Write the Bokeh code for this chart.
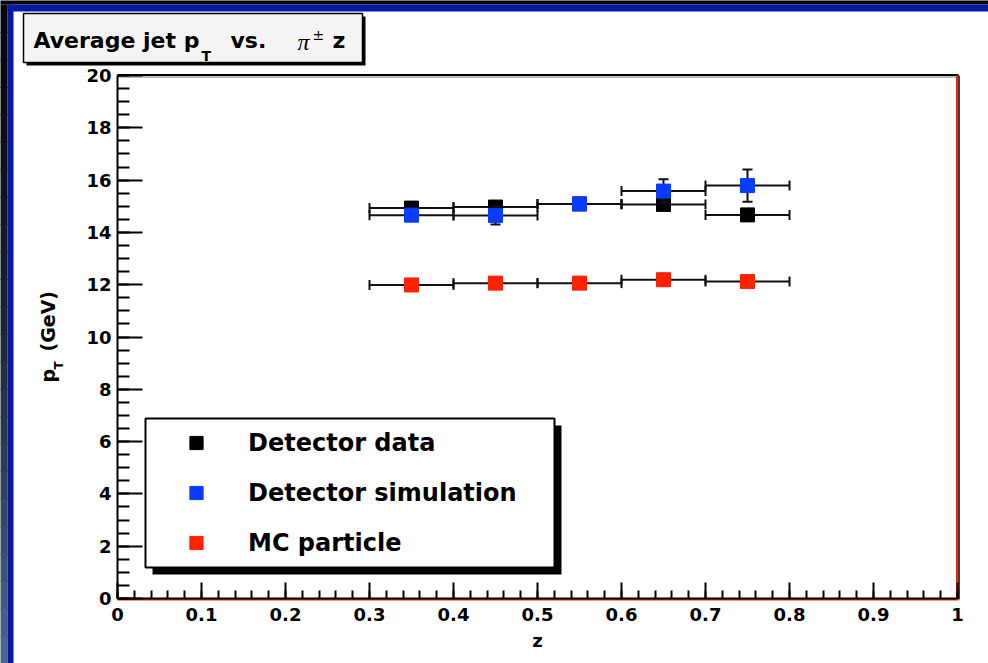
import math
from jinja2 import Template
from bokeh.plotting import figure
from bokeh.models import (Range1d, FixedTicker, BoxAnnotation, Legend, LegendItem, GridBox)
from bokeh.core.properties import value
from bokeh.embed import file_html
from bokeh.resources import INLINE

# ---------------- data ----------------
z_centers = [0.35, 0.45, 0.55, 0.65, 0.75]
z_halfwidth = [0.05, 0.05, 0.05, 0.05, 0.05]
data_pt = [14.93, 14.97, 15.09, 15.07, 14.67]
data_err = [0.12, 0.12, 0.12, 0.12, 0.12]
sim_pt = [14.66, 14.65, 15.09, 15.58, 15.79]
sim_err = [0.20, 0.35, 0.20, 0.45, 0.62]
mc_pt = [11.99, 12.06, 12.06, 12.19, 12.12]
mc_err = [0.08, 0.08, 0.08, 0.08, 0.08]
series_names = ["Detector data", "Detector simulation", "MC particle"]
series_colors = ["#000000", "#0a3cff", "#ff2200"]

x_ticks = [0.0, 0.1, 0.2, 0.3, 0.4, 0.5, 0.6, 0.7, 0.8, 0.9, 1.0]
x_tick_labels = ["0", "0.1", "0.2", "0.3", "0.4", "0.5", "0.6", "0.7", "0.8", "0.9", "1"]
y_ticks = [0, 2, 4, 6, 8, 10, 12, 14, 16, 18, 20]
y_tick_labels = ["0", "2", "4", "6", "8", "10", "12", "14", "16", "18", "20"]
x_minor = [round(i * 0.02, 2) for i in range(51)]
y_minor = [i * 0.5 for i in range(41)]

# ---------------- layout ----------------
W, H = 988, 663
FL, FR, FT, FB = 117, 957, 75, 598  # frame edges in canvas pixels
FONT = "DejaVu Sans"

# ---------- background canvas: slide border, title box, axis title ----------
bg = figure(width=W, height=H, x_range=Range1d(0, W), y_range=Range1d(H, 0),
            output_backend="svg", toolbar_location=None,
            x_axis_type=None, y_axis_type=None, min_border=0)
bg.outline_line_color = None
bg.background_fill_color = "white"
bg.border_fill_color = "white"


def rect(l, t, r, b, color, line=None, lw=1):
    bg.quad(left=[l], right=[r], top=[t], bottom=[b], fill_color=color,
            line_color=line if line else None, line_width=lw)


rect(-20, -20, W + 20, 4, "#050505")
nseg = 24
c0 = (8, 8, 10)
c1 = (78, 104, 142)
for i in range(nseg):
    t = (i + 0.5) / nseg
    f = t ** 1.6
    col = "#%02x%02x%02x" % tuple(int(a + (b - a) * f) for a, b in zip(c0, c1))
    y0 = 4 + (H - 4) * i / nseg
    y1 = 4 + (H - 4) * (i + 1) / nseg + 1
    if i == nseg - 1:
        y1 = H + 20
    rect(-20, y0, 7, y1, col)
rect(7, 4, W + 20, 11, "#0818a0")
rect(7, 4, 13, H + 20, "#0818a0")

# frame edges (ROOT style): black top, red right / bottom
bg.line(x=[FL, FR + 1], y=[FT + 1.5, FT + 1.5], line_color="#bbbbbb", line_width=2)
bg.line(x=[FL, FR + 1], y=[FT - 0.5, FT - 0.5], line_color="black", line_width=2)
bg.line(x=[FR + 1.5, FR + 1.5], y=[FT, FB + 1], line_color="black", line_width=1.5)
bg.line(x=[FR - 0.5, FR - 0.5], y=[FT, FB + 1], line_color="#ff2200", line_width=2)
bg.line(x=[FL, FR + 1], y=[FB + 1, FB + 1], line_color="#ff2200", line_width=2)

# title box
rect(26, 16, 365, 65, "black")
rect(23, 13, 362, 62, "#f4f4f4", line="black", lw=1.5)


def txt(text, x, y, size, font=FONT, style="bold", angle=0.0):
    bg.text(x=[x], y=[y], text=[text], text_font=value(font), text_font_style=style,
            text_font_size=value(size), text_color="black",
            text_baseline="alphabetic", text_align="left", angle=angle)


txt("Average jet p", 33, 40, "22px")
txt("T", 201, 55, "14px")
txt("vs.", 230, 40, "22px")
txt("\u03c0", 297, 41, "24px", font="Liberation Serif", style="italic")
txt("\u00b1", 312, 34, "14px", style="normal")
txt("z", 332, 40, "22px")

# y axis title: p_T (GeV), rotated
txt("p", 47, 382, "19px", angle=math.pi / 2)
txt("T", 58, 369, "12px", angle=math.pi / 2)
txt("(GeV)", 47, 351, "19px", angle=math.pi / 2)

# ---------------- main plot ----------------
p = figure(width=W, height=H, x_range=Range1d(0, 1), y_range=Range1d(0, 20),
           output_backend="svg", toolbar_location=None,
           min_border_left=FL, min_border_right=W - FR,
           min_border_top=FT, min_border_bottom=H - FB)
for fig in (bg, p):
    try:
        fig.frame_align = False
    except Exception:
        pass
p.grid.visible = False
p.background_fill_color = None
p.border_fill_color = None
p.outline_line_color = None

xa = p.xaxis[0]
ya = p.yaxis[0]
xa.ticker = FixedTicker(ticks=x_ticks, minor_ticks=x_minor)
ya.ticker = FixedTicker(ticks=y_ticks, minor_ticks=y_minor)
xa.major_label_overrides = dict(zip(x_ticks, x_tick_labels))
ya.major_label_overrides = dict(zip(y_ticks, y_tick_labels))
for ax in (xa, ya):
    ax.major_label_text_font = FONT
    ax.major_label_text_font_style = "bold"
    ax.major_label_text_font_size = "18px"
    ax.major_label_text_color = "black"
    ax.axis_line_color = "black"
    ax.axis_line_width = 2
    ax.major_tick_line_color = "black"
    ax.major_tick_line_width = 2
    ax.minor_tick_line_color = "black"
    ax.minor_tick_line_width = 2
    ax.major_tick_out = 0
    ax.minor_tick_out = 0
xa.major_tick_in = 16
xa.minor_tick_in = 8
ya.major_tick_in = 25
ya.minor_tick_in = 12
xa.major_label_standoff = 9
ya.major_label_standoff = 6
xa.axis_label = "z"
xa.axis_label_text_font = FONT
xa.axis_label_text_font_style = "bold"
xa.axis_label_text_font_size = "18px"
xa.axis_label_text_color = "black"
xa.axis_label_standoff = 6
ya.axis_label = None

# data marks
ERR = "#111111"
series = [(data_pt, data_err), (sim_pt, sim_err), (mc_pt, mc_err)]
marker_renderers = []
for (pts, errs), color in zip(series, series_colors):
    lo = [zc - w for zc, w in zip(z_centers, z_halfwidth)]
    hi = [zc + w for zc, w in zip(z_centers, z_halfwidth)]
    ylo = [v - e for v, e in zip(pts, errs)]
    yhi = [v + e for v, e in zip(pts, errs)]
    p.segment(x0=lo, y0=pts, x1=hi, y1=pts, line_color=ERR, line_width=2)
    p.scatter(x=lo + hi, y=pts + pts, marker="dash", angle=math.pi / 2, size=10,
              line_color=ERR, line_width=2)
    p.segment(x0=z_centers, y0=ylo, x1=z_centers, y1=yhi, line_color=ERR, line_width=2)
    p.scatter(x=z_centers + z_centers, y=ylo + yhi, marker="dash", size=10,
              line_color=ERR, line_width=2)
    r = p.scatter(x=z_centers, y=pts, marker="square", size=14,
                  fill_color=color, line_color=color)
    marker_renderers.append(r)


# legend (inside the frame)
def sbox(l, t, r, b, color, line=None, lw=1):
    p.add_layout(BoxAnnotation(left=l - FL, right=r - FL, top=FB - t, bottom=FB - b,
                               left_units="screen", right_units="screen",
                               top_units="screen", bottom_units="screen",
                               fill_color=color, fill_alpha=1,
                               line_color=line if line else color,
                               line_alpha=1 if line else 0, line_width=lw))


sbox(152, 425, 561, 574, "black")
sbox(145, 418, 554, 567, "white", line="black", lw=2)
legend = Legend(items=[LegendItem(label=n, renderers=[r])
                       for n, r in zip(series_names, marker_renderers)],
                location=(145 - FL, FB - 567), orientation="vertical",
                padding=8, spacing=17, glyph_width=86, glyph_height=33,
                label_standoff=9, margin=0,
                border_line_alpha=0, background_fill_alpha=0,
                label_text_font=FONT, label_text_font_style="bold",
                label_text_font_size="24px", label_text_color="black")
p.add_layout(legend)

# stack both canvases in the same grid cell (p drawn on top of bg)
layout = GridBox(children=[(bg, 0, 0), (p, 0, 0)], width=W, height=H,
                 styles={"overflow": "hidden"})

page_template = Template(
    "{% extends base %}"
    "{% block postamble %}<style>html, body { margin: 0; padding: 0; overflow: hidden; }</style>{% endblock %}"
)
open("out.html", "w").write(file_html(layout, INLINE, template=page_template))
